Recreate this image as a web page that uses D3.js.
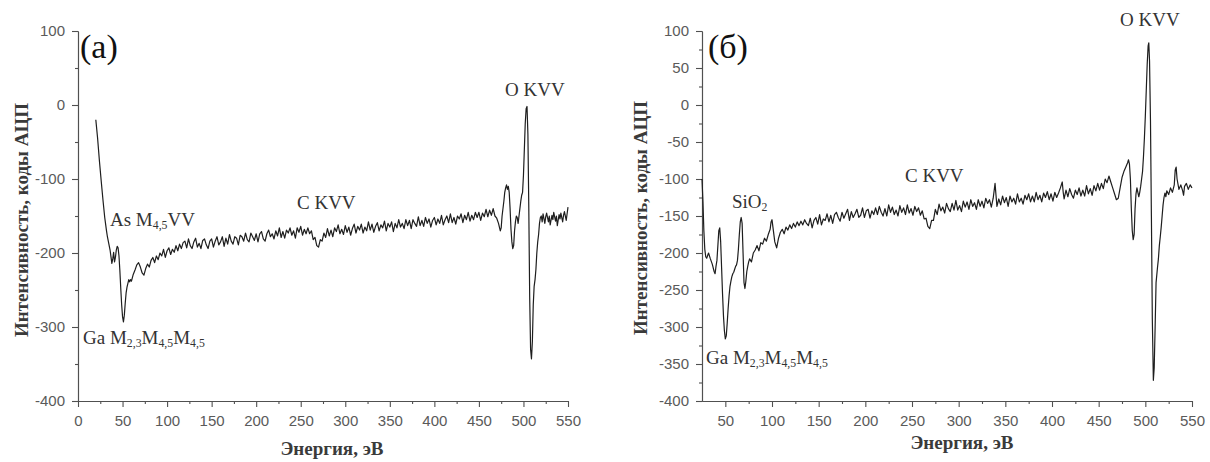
<!DOCTYPE html>
<html>
<head>
<meta charset="utf-8">
<script src="https://cdn.jsdelivr.net/npm/d3@7"></script>
<style>
  body { margin: 0; background: #fff; }
  svg { display: block; }
</style>
</head>
<body>
<svg id="chart" width="1210" height="462"></svg>
<script>
// Auger spectra: [energy, eV ; intensity, ADC counts]
const spectrumA = [
  [20,-20],[22,-45],[24,-75],[26,-102],[28,-128],[30,-152],[32,-170],[33,-178],[34,-184],[35,-190],
  [36,-196],[37,-205],[38,-214],[39,-208],[40,-199],[41,-212],[42,-206],[43,-196],[44,-191],[45,-193],
  [46,-204],[47,-224],[48,-248],[49,-270],[50,-286],[51,-293],[52,-284],[53,-268],[54,-254],[55,-246],
  [56,-241],[57,-236],[58,-239],[59,-236],[60,-238],[62,-229],[64,-223],[66,-216],[68,-213],[70,-219],
  [72,-227],[74,-230],[76,-221],[78,-215],[80,-219],[82,-210],[84,-206],[86,-213],[88,-204],[90,-209],
  [92,-200],[94,-204],[96,-195],[98,-206],[100,-197],[102,-193],[104,-202],[106,-195],[108,-199],[110,-190],
  [112,-197],[114,-188],[116,-194],[118,-186],[120,-184],[122,-193],[124,-181],[126,-190],[128,-194],[130,-185],
  [132,-180],[134,-192],[136,-187],[138,-194],[140,-183],[142,-181],[144,-189],[146,-194],[148,-184],[150,-181],
  [152,-192],[154,-184],[156,-178],[158,-189],[160,-185],[162,-178],[164,-191],[166,-180],[168,-188],[170,-175],
  [172,-184],[174,-188],[176,-178],[178,-180],[180,-189],[182,-176],[184,-178],[186,-184],[188,-173],[190,-182],
  [192,-185],[194,-173],[196,-178],[198,-183],[200,-174],[202,-185],[204,-174],[206,-171],[208,-181],[210,-184],
  [212,-174],[214,-169],[216,-178],[218,-174],[220,-181],[222,-170],[224,-177],[226,-166],[228,-179],[230,-171],
  [232,-180],[234,-169],[236,-173],[238,-166],[240,-176],[242,-170],[244,-180],[246,-166],[248,-172],[250,-164],
  [252,-176],[254,-168],[256,-174],[258,-166],[260,-174],[262,-170],[264,-182],[266,-179],[268,-190],[270,-192],
  [272,-182],[274,-184],[276,-173],[278,-179],[280,-167],[282,-177],[284,-169],[286,-178],[288,-166],[290,-171],
  [292,-162],[294,-174],[296,-168],[298,-175],[300,-163],[302,-172],[304,-165],[306,-176],[308,-167],[310,-161],
  [312,-173],[314,-164],[316,-169],[318,-161],[320,-173],[322,-165],[324,-170],[326,-158],[328,-169],[330,-161],
  [332,-172],[334,-164],[336,-159],[338,-170],[340,-162],[342,-166],[344,-157],[346,-170],[348,-160],[350,-165],
  [352,-158],[354,-171],[356,-160],[358,-166],[360,-155],[362,-165],[364,-160],[366,-167],[368,-155],[370,-163],
  [372,-156],[374,-167],[376,-155],[378,-160],[380,-164],[382,-151],[384,-163],[386,-156],[388,-164],[390,-152],
  [392,-160],[394,-154],[396,-165],[398,-156],[400,-152],[402,-162],[404,-154],[406,-160],[408,-149],[410,-162],
  [412,-155],[414,-150],[416,-159],[418,-147],[420,-159],[422,-152],[424,-161],[426,-150],[428,-154],[430,-147],
  [432,-159],[434,-149],[436,-155],[438,-145],[440,-157],[442,-149],[444,-155],[446,-145],[448,-152],[450,-145],
  [452,-156],[454,-146],[456,-151],[458,-141],[460,-151],[462,-142],[464,-149],[466,-140],[468,-150],[470,-153],
  [472,-160],[474,-170],[475,-166],[476,-150],[478,-130],[479,-118],[480,-112],[481,-108],[482,-114],[483,-110],
  [484,-118],[485,-140],[486,-168],[487,-185],[488,-194],[489,-190],[490,-170],[491,-158],[492,-150],[493,-152],
  [494,-160],[495,-150],[496,-140],[497,-130],[498,-122],[499,-118],[500,-95],[501,-60],[502,-25],[503,-5],
  [504,-2],[505,-40],[506,-140],[507,-260],[508,-330],[509,-343],[510,-320],[511,-270],[512,-245],[513,-236],
  [514,-222],[515,-200],[516,-185],[517,-175],[518,-160],[519,-152],[520,-150],[521,-158],[522,-147],[524,-160],
  [525,-151],[526,-146],[528,-158],[529,-150],[530,-162],[532,-149],[533,-155],[534,-145],[536,-157],[537,-150],
  [538,-163],[540,-148],[541,-154],[542,-146],[544,-158],[545,-149],[546,-144],[548,-156],[549,-147],[550,-138]
];

const spectrumB = [
  [25,-100],[26,-130],[27,-170],[28,-195],[29,-205],[30,-207],[32,-200],[34,-208],[36,-215],[38,-225],
  [39,-228],[40,-218],[41,-210],[42,-190],[43,-170],[44,-166],[45,-185],[46,-220],[47,-255],[48,-285],
  [49,-305],[50,-316],[51,-312],[52,-295],[53,-275],[54,-258],[55,-245],[56,-238],[57,-232],[58,-228],
  [59,-226],[60,-222],[61,-218],[62,-216],[63,-210],[64,-195],[65,-175],[66,-158],[67,-152],[68,-160],
  [69,-200],[70,-240],[71,-248],[72,-238],[73,-225],[74,-218],[75,-212],[76,-208],[78,-212],[80,-200],
  [82,-196],[84,-190],[86,-197],[88,-186],[90,-188],[92,-180],[94,-184],[96,-175],[98,-168],[99,-158],
  [100,-155],[101,-165],[103,-185],[105,-193],[107,-180],[109,-172],[111,-168],[113,-174],[115,-165],[117,-169],
  [119,-162],[121,-167],[123,-160],[125,-165],[127,-158],[129,-163],[131,-157],[133,-162],[135,-155],[137,-160],
  [139,-163],[141,-153],[143,-166],[145,-156],[147,-152],[149,-161],[151,-148],[153,-162],[155,-154],[157,-156],
  [159,-147],[161,-158],[163,-149],[165,-160],[167,-148],[169,-145],[171,-152],[173,-157],[175,-145],[177,-153],
  [179,-147],[181,-141],[183,-156],[185,-144],[187,-152],[189,-147],[191,-141],[193,-152],[195,-149],[197,-139],
  [199,-152],[201,-143],[203,-141],[205,-153],[207,-143],[209,-148],[211,-139],[213,-148],[215,-137],[217,-145],
  [219,-150],[221,-140],[223,-150],[225,-135],[227,-145],[229,-138],[231,-148],[233,-142],[235,-150],[237,-136],
  [239,-145],[241,-139],[243,-148],[245,-135],[247,-146],[249,-140],[251,-149],[253,-137],[255,-144],[257,-139],
  [259,-149],[261,-143],[263,-154],[265,-153],[267,-164],[269,-167],[271,-156],[273,-156],[275,-141],[277,-148],
  [279,-134],[281,-143],[283,-138],[285,-146],[287,-133],[289,-140],[291,-144],[293,-133],[295,-142],[297,-129],
  [299,-142],[301,-136],[303,-144],[305,-130],[307,-138],[309,-131],[311,-141],[313,-128],[315,-137],[317,-132],
  [319,-141],[321,-128],[323,-137],[325,-130],[327,-139],[329,-126],[331,-133],[333,-128],[335,-138],[337,-126],
  [339,-106],[340,-122],[341,-137],[343,-127],[345,-135],[347,-123],[349,-132],[351,-125],[353,-137],[355,-123],
  [357,-131],[359,-126],[361,-134],[363,-120],[365,-131],[367,-126],[369,-134],[371,-122],[373,-128],[375,-120],
  [377,-131],[379,-123],[381,-131],[383,-118],[385,-128],[387,-122],[389,-131],[391,-119],[393,-125],[395,-117],
  [397,-128],[399,-120],[401,-130],[403,-118],[405,-125],[407,-119],[409,-112],[411,-104],[412,-118],[413,-127],
  [415,-115],[417,-124],[419,-113],[421,-121],[423,-126],[425,-115],[427,-121],[429,-112],[431,-123],[433,-115],
  [435,-123],[437,-109],[439,-120],[441,-113],[443,-122],[445,-109],[447,-116],[449,-106],[451,-115],[453,-106],
  [455,-113],[457,-100],[459,-105],[461,-96],[463,-104],[465,-112],[467,-120],[469,-128],[471,-126],[473,-112],
  [475,-98],[477,-90],[479,-84],[481,-78],[482,-74],[483,-80],[484,-100],[485,-140],[486,-170],[487,-182],
  [488,-175],[489,-140],[490,-120],[491,-112],[492,-118],[493,-124],[494,-118],[495,-110],[496,-100],[497,-90],
  [498,-70],[499,-45],[500,-15],[501,20],[502,55],[503,80],[503.7,84],[504.5,60],[505.5,-20],[506.5,-150],
  [507.5,-290],[508.6,-372],[509.5,-355],[510.5,-300],[511.5,-240],[513,-220],[514,-208],[515,-190],[516,-178],[517,-165],
  [518,-150],[519,-135],[520,-125],[521,-119],[522,-124],[523,-116],[525,-121],[527,-112],[529,-118],[531,-108],
  [532,-88],[533,-84],[534,-100],[536,-114],[538,-108],[540,-116],[541,-122],[542,-110],[544,-106],[546,-114],
  [548,-108],[550,-112]
];

// Axis ticks
const xMajorA = [0, 50, 100, 150, 200, 250, 300, 350, 400, 450, 500, 550];
const xMinorA = [25, 75, 125, 175, 225, 275, 325, 375, 425, 475, 525];
const yMajorA = [100, 0, -100, -200, -300, -400];
const yMinorA = [50, -50, -150, -250, -350];

const xMajorB = [50, 100, 150, 200, 250, 300, 350, 400, 450, 500, 550];
const xMinorB = [75, 125, 175, 225, 275, 325, 375, 425, 475, 525];
const yMajorB = [100, 50, 0, -50, -100, -150, -200, -250, -300, -350, -400];
const yMinorB = [75, 25, -25, -75, -125, -175, -225, -275, -325, -375];

const yTitle = "Интенсивность, коды АЦП";
const xTitle = "Энергия, эВ";

const SERIF = "'Liberation Serif', 'Times New Roman', serif";
const SANS = "'Liberation Sans', Arial, sans-serif";
const AXIS_COLOR = "#505050";
const TEXT_COLOR = "#333";

const svg = d3.select("#chart");
const plainNumber = d => String(d);   // ASCII hyphen for negatives

// Writes a label made of [text, isSubscript] runs
function richLabel(g, x, y, runs, size) {
  const t = g.append("text")
    .attr("x", x).attr("y", y)
    .attr("font-family", SERIF)
    .attr("font-size", size)
    .attr("fill", TEXT_COLOR);
  let low = false;
  runs.forEach(([s, sub]) => {
    const ts = t.append("tspan").text(s);
    if (sub && !low) { ts.attr("dy", 3).attr("font-size", size * 0.62); low = true; }
    else if (sub) { ts.attr("font-size", size * 0.62); }
    else if (!sub && low) { ts.attr("dy", -3); low = false; }
  });
  return t;
}

function drawPanel(p) {
  const x = d3.scaleLinear().domain(p.xDomain).range([p.x0, p.x1]);
  const y = d3.scaleLinear().domain([-400, 100]).range([401, 31]);
  const g = svg.append("g");

  // minor ticks
  g.append("g").attr("transform", "translate(0,401)")
    .call(d3.axisBottom(x).tickValues(p.xMinor).tickSize(3).tickSizeOuter(0).tickFormat(""));
  g.append("g").attr("transform", `translate(${p.x0},0)`)
    .call(d3.axisLeft(y).tickValues(p.yMinor).tickSize(3).tickSizeOuter(0).tickFormat(""));

  // major ticks with labels
  g.append("g").attr("transform", "translate(0,401)")
    .call(d3.axisBottom(x).tickValues(p.xMajor).tickSize(6).tickSizeOuter(0).tickPadding(8).tickFormat(plainNumber));
  g.append("g").attr("transform", `translate(${p.x0},0)`)
    .call(d3.axisLeft(y).tickValues(p.yMajor).tickSize(6).tickSizeOuter(0).tickPadding(7).tickFormat(plainNumber));

  g.selectAll(".domain, .tick line").attr("stroke", AXIS_COLOR).attr("stroke-width", 1.1);
  g.selectAll(".tick text")
    .attr("font-family", SANS).attr("font-size", 15).attr("fill", "#5a5a5a");

  // spectrum line
  const line = d3.line().x(d => x(d[0])).y(d => y(d[1]));
  g.append("path").datum(p.data)
    .attr("d", line)
    .attr("fill", "none")
    .attr("stroke", "#1e1e1e")
    .attr("stroke-width", 1.2)
    .attr("stroke-linejoin", "round");

  // axis titles
  g.append("text")
    .attr("transform", `translate(${p.yTitleX},${p.yTitleY}) rotate(-90)`)
    .attr("text-anchor", "middle").attr("dominant-baseline", "central")
    .attr("font-family", SERIF).attr("font-size", 19).attr("font-weight", "bold")
    .attr("fill", "#3a3a3a").text(yTitle);
  g.append("text")
    .attr("x", p.xTitleX).attr("y", p.xTitleY)
    .attr("text-anchor", "middle")
    .attr("font-family", SERIF).attr("font-size", 19).attr("font-weight", "bold")
    .attr("fill", "#3a3a3a").text(xTitle);

  // panel letter
  g.append("text")
    .attr("x", p.tag[1]).attr("y", p.tag[2])
    .attr("font-family", SERIF).attr("font-size", 34).attr("fill", "#111")
    .text(p.tag[0]);

  p.labels.forEach(l => richLabel(g, l.x, l.y, l.runs, 19));
}

drawPanel({
  data: spectrumA, xDomain: [0, 550], x0: 78, x1: 568,
  xMajor: xMajorA, xMinor: xMinorA, yMajor: yMajorA, yMinor: yMinorA,
  yTitleX: 21, yTitleY: 220, xTitleX: 332, xTitleY: 455,
  tag: ["(a)", 80, 58],
  labels: [
    { x: 110, y: 226, runs: [["As M", false], ["4,5", true], ["VV", false]] },
    { x: 83, y: 344, runs: [["Ga M", false], ["2,3", true], ["M", false], ["4,5", true], ["M", false], ["4,5", true]] },
    { x: 297, y: 209, runs: [["C KVV", false]] },
    { x: 505, y: 96, runs: [["O KVV", false]] }
  ]
});

drawPanel({
  data: spectrumB, xDomain: [25, 550], x0: 702, x1: 1192,
  xMajor: xMajorB, xMinor: xMinorB, yMajor: yMajorB, yMinor: yMinorB,
  yTitleX: 640, yTitleY: 218, xTitleX: 962, xTitleY: 449,
  tag: ["(б)", 708, 58],
  labels: [
    { x: 732, y: 208, runs: [["SiO", false], ["2", true]] },
    { x: 706, y: 364, runs: [["Ga M", false], ["2,3", true], ["M", false], ["4,5", true], ["M", false], ["4,5", true]] },
    { x: 905, y: 182, runs: [["C KVV", false]] },
    { x: 1120, y: 26, runs: [["O KVV", false]] }
  ]
});
</script>
</body>
</html>
